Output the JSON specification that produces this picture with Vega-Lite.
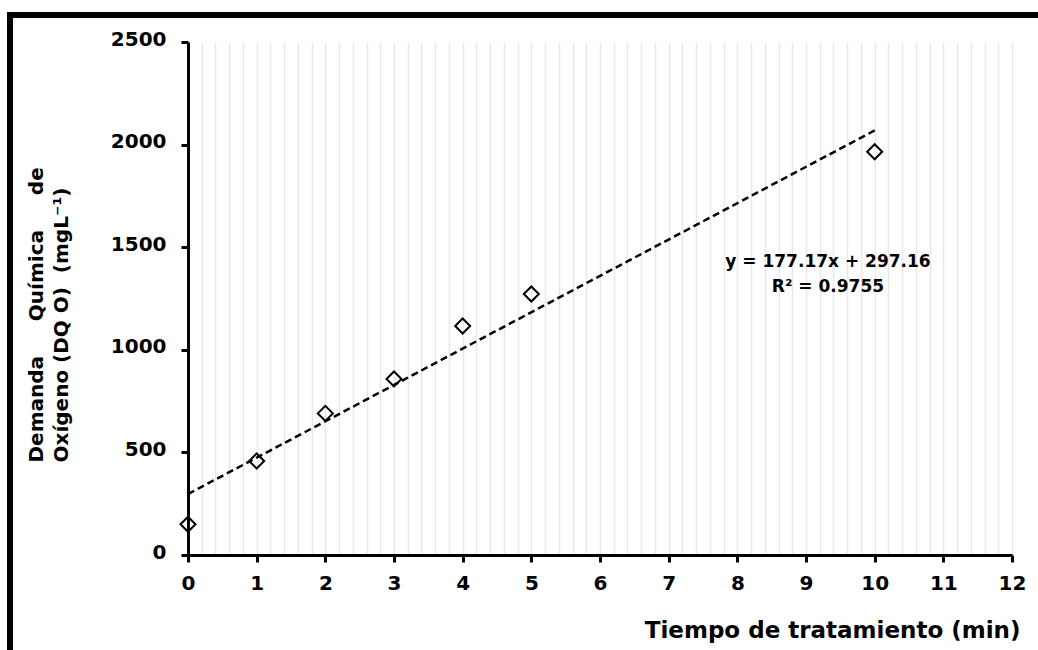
{
  "$schema": "https://vega.github.io/schema/vega-lite/v6.json",
  "width": 824,
  "height": 513,
  "autosize": {"type": "none"},
  "padding": {"left": 188, "top": 42, "right": 26, "bottom": 95},
  "background": "white",
  "config": {"view": {"stroke": null}, "font": "DejaVu Sans"},
  "datasets": {
    "dqo": [
      {"tiempo": 0, "dqo": 150},
      {"tiempo": 1, "dqo": 458},
      {"tiempo": 2, "dqo": 690},
      {"tiempo": 3, "dqo": 858},
      {"tiempo": 4, "dqo": 1116},
      {"tiempo": 5, "dqo": 1272},
      {"tiempo": 10, "dqo": 1965}
    ],
    "tendencia": [
      {"tiempo": 0, "dqo": 297.16},
      {"tiempo": 10, "dqo": 2068.86}
    ],
    "marco": [{"x1": -2.592, "x2": 13, "y1": 2631.6, "y2": -600}],
    "anotacion": [{"tiempo": 9.32, "dqo": 1403}]
  },
  "resolve": {"axis": {"x": "independent", "y": "independent"}},
  "layer": [
    {
      "data": {"name": "marco"},
      "mark": {"type": "rect", "fill": "white", "fillOpacity": 0, "stroke": "black", "strokeWidth": 6, "clip": false},
      "encoding": {
        "x": {"field": "x1", "type": "quantitative", "scale": {"domain": [0, 12], "nice": false}, "axis": null},
        "x2": {"field": "x2"},
        "y": {"field": "y1", "type": "quantitative", "scale": {"domain": [0, 2500], "nice": false}, "axis": null},
        "y2": {"field": "y2"}
      }
    },
    {
      "data": {"name": "tendencia"},
      "mark": {"type": "line", "color": "black", "strokeWidth": 2.5, "strokeDash": [7, 4]},
      "encoding": {
        "x": {
          "field": "tiempo", "type": "quantitative",
          "scale": {"domain": [0, 12], "nice": false},
          "axis": {
            "orient": "bottom",
            "values": [0.2, 0.4, 0.6, 0.8, 1, 1.2, 1.4, 1.6, 1.8, 2, 2.2, 2.4, 2.6, 2.8, 3, 3.2, 3.4, 3.6, 3.8, 4, 4.2, 4.4, 4.6, 4.8, 5, 5.2, 5.4, 5.6, 5.8, 6, 6.2, 6.4, 6.6, 6.8, 7, 7.2, 7.4, 7.6, 7.8, 8, 8.2, 8.4, 8.6, 8.8, 9, 9.2, 9.4, 9.6, 9.8, 10, 10.2, 10.4, 10.6, 10.8, 11, 11.2, 11.4, 11.6, 11.8, 12],
            "grid": true, "gridColor": "#e8e8e8", "gridWidth": 1.5,
            "domain": false, "ticks": false, "labels": false, "title": null, "zindex": 0
          }
        },
        "y": {"field": "dqo", "type": "quantitative", "scale": {"domain": [0, 2500], "nice": false}, "axis": null}
      }
    },
    {
      "data": {"name": "dqo"},
      "mark": {"type": "point", "shape": "diamond", "size": 225, "filled": false, "color": "black", "strokeWidth": 2, "opacity": 1},
      "encoding": {
        "x": {
          "field": "tiempo", "type": "quantitative",
          "scale": {"domain": [0, 12], "nice": false},
          "axis": {
            "orient": "bottom",
            "values": [0, 1, 2, 3, 4, 5, 6, 7, 8, 9, 10, 11, 12],
            "format": "d",
            "grid": false,
            "domainColor": "black", "domainWidth": 3,
            "tickColor": "black", "tickWidth": 3, "tickSize": 7,
            "labelFont": "DejaVu Sans", "labelFontWeight": "bold", "labelFontSize": 20, "labelColor": "black", "labelPadding": 11,
            "labelFlush": false, "labelOverlap": false,
            "title": "Tiempo de tratamiento (min)",
            "titleFont": "DejaVu Sans", "titleFontWeight": "bold", "titleFontSize": 23, "titleColor": "black",
            "titleAlign": "right", "titleAnchor": "end", "titleX": 832, "titleY": 82, "titleBaseline": "alphabetic",
            "zindex": 1
          }
        },
        "y": {
          "field": "dqo", "type": "quantitative",
          "scale": {"domain": [0, 2500], "nice": false},
          "axis": {
            "orient": "left",
            "values": [0, 500, 1000, 1500, 2000, 2500],
            "format": "d",
            "grid": false,
            "domainColor": "black", "domainWidth": 3,
            "tickColor": "black", "tickWidth": 3, "tickSize": 7,
            "labelFont": "DejaVu Sans", "labelFontWeight": "bold", "labelFontSize": 20, "labelColor": "black", "labelPadding": 15,
            "labelFlush": false, "labelOverlap": false, "labelBaseline": "bottom", "labelOffset": 7,
            "title": ["Demanda\u00a0\u00a0\u00a0\u00a0\u00a0Química\u00a0\u00a0\u00a0\u00a0\u00a0de", "Oxígeno (DQ O)\u00a0\u00a0(mgL⁻¹)"],
            "titleFont": "DejaVu Sans", "titleFontWeight": "bold", "titleFontSize": 20, "titleColor": "black",
            "titleAngle": -90, "titleAlign": "left", "titleBaseline": "middle", "titleLineHeight": 25,
            "titleX": -152, "titleY": 420,
            "zindex": 1
          }
        }
      }
    },
    {
      "data": {"name": "anotacion"},
      "mark": {"type": "text", "text": ["y = 177.17x + 297.16", "R² = 0.9755"], "font": "DejaVu Sans", "fontWeight": "bold", "fontSize": 17, "lineHeight": 25, "align": "center", "baseline": "alphabetic", "color": "black"},
      "encoding": {
        "x": {"field": "tiempo", "type": "quantitative", "scale": {"domain": [0, 12], "nice": false}, "axis": null},
        "y": {"field": "dqo", "type": "quantitative", "scale": {"domain": [0, 2500], "nice": false}, "axis": null}
      }
    }
  ]
}
